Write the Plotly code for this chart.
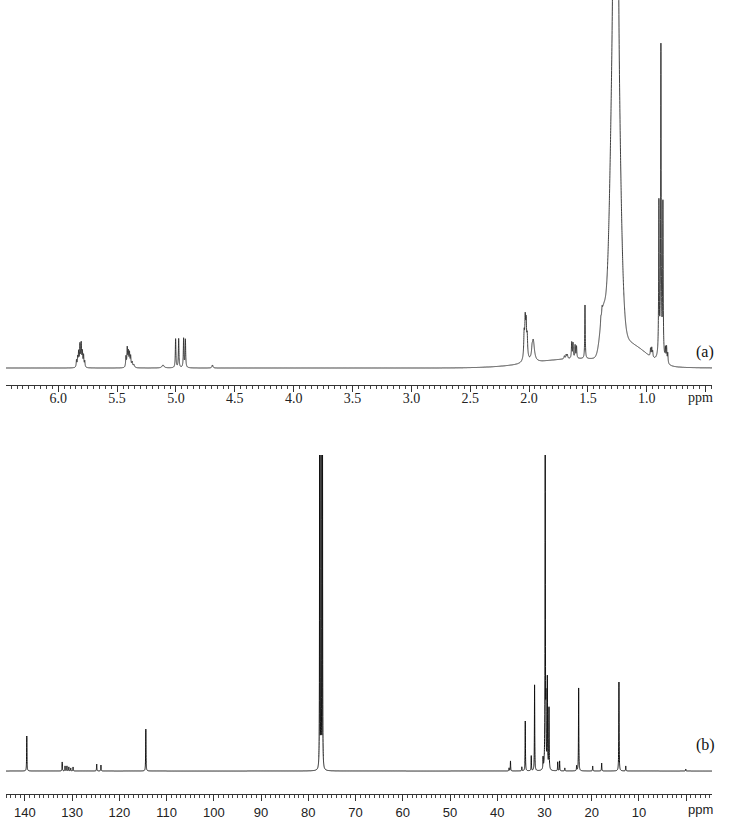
import numpy as np
import plotly.graph_objects as go

# ---------------- 1H NMR (a): Lorentzian lines (ppm, height, half-width) ----------------
h_line_ppm = [5.845, 5.835, 5.827, 5.816, 5.805, 5.795, 5.785, 5.775,
              5.425, 5.414, 5.405, 5.395, 5.385, 5.372, 5.357,
              5.110, 5.003, 4.977, 4.935, 4.920, 4.690,
              2.042, 2.033, 2.025, 2.016, 2.030, 1.965, 1.975,
              1.700, 1.685, 1.675, 1.638, 1.627, 1.609, 1.597, 1.525,
              1.390, 1.380, 1.277, 1.250,
              0.968, 0.958, 0.950,
              0.897, 0.880, 0.863, 0.880,
              0.842, 0.832, 0.822]
h_line_height = [7, 9, 13, 19, 20, 13, 11, 6,
                 10, 17, 12, 11, 9, 5, 3,
                 3, 29, 29, 29, 28, 3,
                 22, 31, 28, 19, 10, 22, 5,
                 3, 4, 4, 16, 15, 13, 12, 54,
                 6, 6, 400, 400,
                 8, 9, 6,
                 150, 300, 150, 15,
                 12, 15, 10]
h_line_width = [0.003, 0.003, 0.003, 0.003, 0.003, 0.003, 0.003, 0.003,
                0.003, 0.003, 0.003, 0.003, 0.003, 0.004, 0.006,
                0.010, 0.003, 0.003, 0.003, 0.003, 0.005,
                0.004, 0.004, 0.004, 0.004, 0.015, 0.012, 0.004,
                0.004, 0.004, 0.004, 0.003, 0.003, 0.003, 0.003, 0.0025,
                0.003, 0.003, 0.006, 0.006,
                0.003, 0.003, 0.003,
                0.0025, 0.0025, 0.0025, 0.020,
                0.003, 0.003, 0.003]
# broad Gaussian envelopes (ppm, height, sigma)
h_band_ppm = [5.810, 5.400, 1.263, 1.300, 1.372, 1.240, 1.080, 1.600]
h_band_height = [4, 4, 330, 60, 42, 18, 15, 9]
h_band_sigma = [0.015, 0.015, 0.033, 0.030, 0.025, 0.080, 0.100, 0.350]

# ---------------- 13C NMR (b): lines (ppm, height, half-width) ----------------
c_line_ppm = [139.6, 132.1, 131.5, 131.1, 130.7, 130.3, 129.8, 124.8, 123.9, 114.4,
              77.6, 77.3, 77.0,
              37.5, 37.2, 34.8, 34.07, 32.8, 32.1, 30.3, 29.85, 29.7, 29.4, 29.05,
              27.2, 26.8, 25.7, 23.2, 22.77, 19.8, 17.9, 14.24, 12.8, 0.1]
c_line_height = [35, 9, 5, 5, 4, 3, 4, 7, 6, 42,
                 400, 400, 400,
                 3, 10, 4, 50, 15, 86, 11, 330, 55, 88, 61,
                 9, 10, 3, 5, 83, 5, 8, 89, 5, 2]
c_line_width = [0.04] * 10 + [0.03] * 3 + [0.04] * 21
c_band_ppm = [29.6, 77.3]
c_band_height = [4, 4]
c_band_sigma = [0.4, 0.25]

# axis ticks
h_tick_vals = [6.0, 5.5, 5.0, 4.5, 4.0, 3.5, 3.0, 2.5, 2.0, 1.5, 1.0, 0.5]
h_tick_text = ["6.0", "5.5", "5.0", "4.5", "4.0", "3.5", "3.0", "2.5", "2.0", "1.5", "1.0", ""]
c_tick_vals = [140, 130, 120, 110, 100, 90, 80, 70, 60, 50, 40, 30, 20, 10, 0]
c_tick_text = ["140", "130", "120", "110", "100", "90", "80", "70", "60", "50", "40", "30", "20", "10", ""]


def spectrum(x, lp, lh, lw, bp, bh, bs):
    y = np.zeros_like(x)
    for p, h, w in zip(lp, lh, lw):
        y += h * w * w / (w * w + (x - p) ** 2)
    for p, h, s in zip(bp, bh, bs):
        y += h * np.exp(-((x - p) ** 2) / (2 * s * s))
    return y


xh = np.linspace(6.444, 0.446, 14001)
yh = spectrum(xh, h_line_ppm, h_line_height, h_line_width, h_band_ppm, h_band_height, h_band_sigma)
xc = np.linspace(144.0, -5.46, 16001)
yc = spectrum(xc, c_line_ppm, c_line_height, c_line_width, c_band_ppm, c_band_height, c_band_sigma)

W, H = 729, 819
fig = go.Figure()
fig.add_trace(go.Scatter(x=xh, y=yh, mode="lines", xaxis="x", yaxis="y",
                         line=dict(color="#2a2a2a", width=0.9, simplify=False), hoverinfo="skip"))
fig.add_trace(go.Scatter(x=xc, y=yc, mode="lines", xaxis="x2", yaxis="y2",
                         line=dict(color="#111111", width=1.0, simplify=False), hoverinfo="skip"))

axis_common = dict(showline=True, linecolor="#333", linewidth=1, ticks="outside", ticklen=6,
                   tickwidth=1, tickcolor="#333", showgrid=False, zeroline=False,
                   automargin=False, tickmode="array")

fig.update_layout(
    width=W, height=H, template="none",
    margin=dict(l=6, r=17, t=0, b=0),
    paper_bgcolor="white", plot_bgcolor="white", showlegend=False,
    xaxis=dict(domain=[0, 1], anchor="y", range=[6.444, 0.446],
               tickvals=h_tick_vals, ticktext=h_tick_text, ticklabelstandoff=-6,
               tickfont=dict(family="Liberation Serif", size=14, color="#222"),
               minor=dict(tickmode="linear", tick0=0, dtick=0.05, ticklen=3, ticks="outside",
                          tickcolor="#444", tickwidth=1),
               **axis_common),
    yaxis=dict(domain=[1 - 385 / H, 1], anchor="x", range=[-17, 368], visible=False),
    xaxis2=dict(domain=[0, 1], anchor="y2", range=[144.0, -5.46],
                tickvals=c_tick_vals, ticktext=c_tick_text,
                tickfont=dict(family="Liberation Sans Narrow, Liberation Sans", size=13, color="#222"),
                minor=dict(tickmode="linear", tick0=0, dtick=1, ticklen=3, ticks="outside",
                           tickcolor="#444", tickwidth=1),
                **axis_common),
    yaxis2=dict(domain=[1 - 794 / H, 1 - 455 / H], anchor="x2", range=[-23, 316], visible=False),
)

pw = W - 6 - 17


def px(xpix):
    return (xpix - 6) / pw


annots = [
    dict(text="(a)", x=px(705), y=1 - 352 / H, font=dict(family="Liberation Serif", size=16, color="#111")),
    dict(text="(b)", x=px(705), y=1 - 745 / H, font=dict(family="Liberation Serif", size=16, color="#111")),
    dict(text="ppm", x=px(700), y=1 - 397 / H, font=dict(family="Liberation Serif", size=14, color="#222")),
    dict(text="ppm", x=px(700), y=1 - 809 / H,
         font=dict(family="Liberation Sans Narrow, Liberation Sans", size=13, color="#222")),
]
for a in annots:
    fig.add_annotation(xref="paper", yref="paper", showarrow=False, xanchor="center", yanchor="middle", **a)

fig.write_html("out.html", config={"displayModeBar": False},
               post_script="document.body.style.margin='0';document.body.style.overflow='hidden';")
